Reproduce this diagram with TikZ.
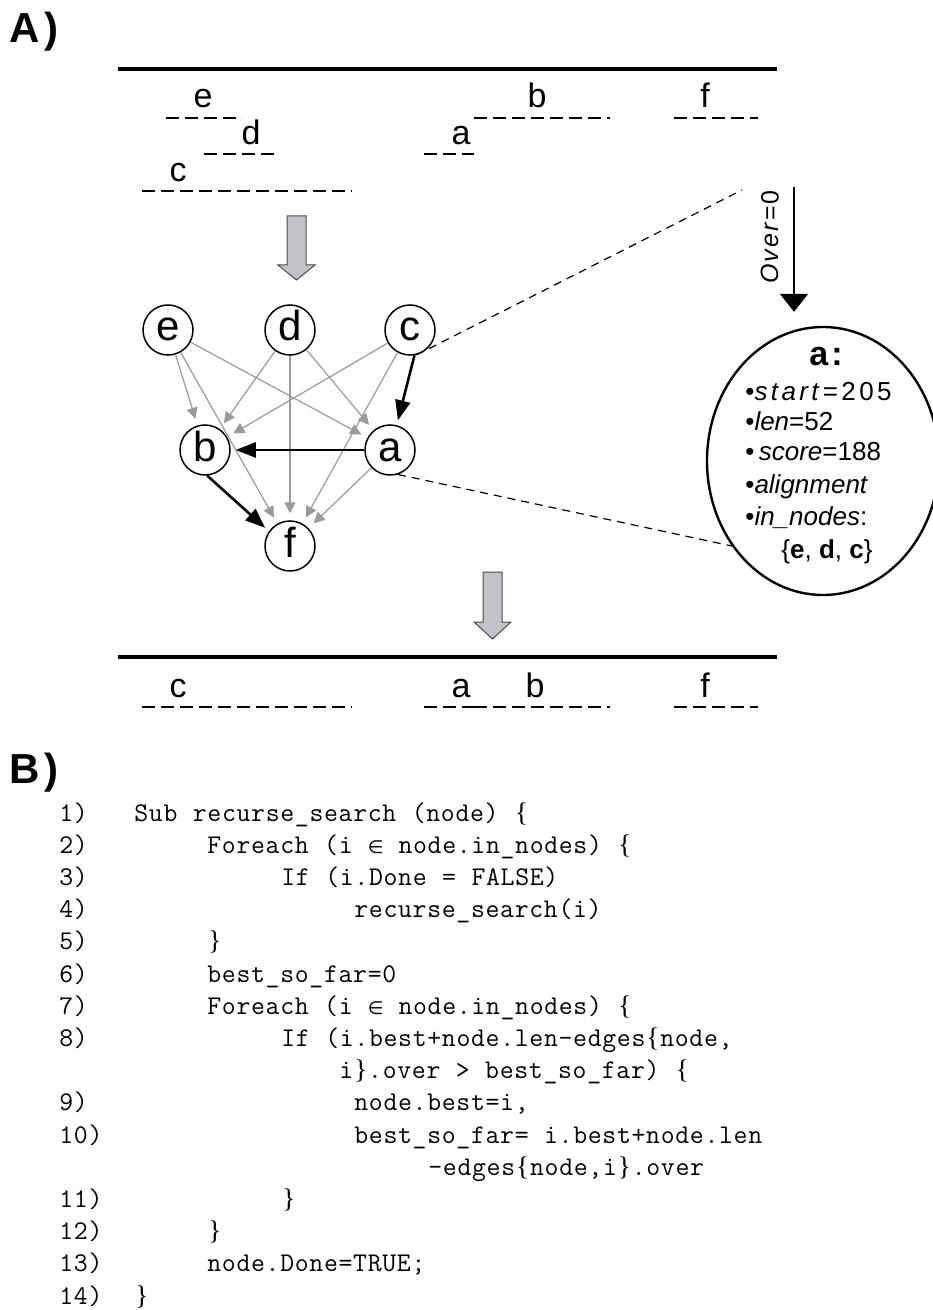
\documentclass[tikz,border=0pt]{standalone}
\usepackage{fontspec}
\setmainfont{Liberation Sans}
\setmonofont{lmmono12-regular.otf}[LetterSpace=2.5,WordSpace=1.06]
\newfontfamily\bracefont{Liberation Serif}
\newfontfamily\symfont{DejaVu Sans}
\usetikzlibrary{arrows.meta,shapes.geometric}
\definecolor{edgegray}{HTML}{9A9A9A}
\definecolor{blockgray}{HTML}{C2C2C8}
\newcommand\lbr{\makebox[7.45pt]{\bracefont\{}}
\newcommand\rbr{\makebox[7.45pt]{\bracefont\}}}
\newcommand\elem{\makebox[7.45pt]{\symfont\fontsize{9}{9}\selectfont ∈}}
\begin{document}
\begin{tikzpicture}[x=0.5pt,y=-0.5pt,
  seg/.style={line width=1.4pt, dash pattern=on 6.3pt off 3.2pt},
  seglbl/.style={font=\fontsize{17}{17}\selectfont, anchor=base, inner sep=0pt},
  gnode/.style={circle, draw, line width=0.75pt, minimum size=25pt, inner sep=0pt,
    text height=11pt, text depth=0pt, font=\fontsize{21}{21}\selectfont},
  gedge/.style={draw=edgegray, line width=0.6pt, -{Triangle[length=5.5pt,width=5.5pt,fill=edgegray]}, shorten >=3.5pt},
  bedge/.style={draw=black, line width=1.3pt, -{Triangle[length=10pt,width=7.5pt]}, shorten >=2.5pt},
  thick line/.style={line width=2.2pt},
  blockarrow/.style={fill=blockgray, draw=black!70, line width=0.5pt},
  linkdash/.style={line width=0.6pt, dash pattern=on 4pt off 3pt},
  elltxt/.style={anchor=base west, inner sep=0pt, font=\fontsize{13}{13}\selectfont},
  codeln/.style={anchor=base west, inner sep=0pt, font=\ttfamily\fontsize{13.5}{13.5}\selectfont},
  panel/.style={anchor=base west, inner sep=0pt, font=\bfseries\fontsize{21}{21}\selectfont}
]
\useasboundingbox (0,0) rectangle (932,1310);

% ---------- panel labels
\node[panel] (pA) at (9,43) {A\kern2.5pt)};
\node[panel] (pB) at (9,783) {B\kern2.5pt)};

% ---------- top alignment
\draw[thick line] (118,69) -- (777,69);
\draw[seg] (166,118) -- (242,118);
\draw[seg] (204,154) -- (278,154);
\draw[seg] (142,191) -- (352,191);
\draw[seg] (424,154) -- (474,154);
\draw[seg] (474,118) -- (610,118);
\draw[seg] (674,118) -- (758,118);
\node[seglbl] (le) at (203,108) {e};
\node[seglbl] (ld) at (251,145) {d};
\node[seglbl] (lc) at (178,182) {c};
\node[seglbl] (la) at (461,145) {a};
\node[seglbl] (lb) at (537,108) {b};
\node[seglbl] (lf) at (705,108) {f};

% ---------- block arrows
\draw[blockarrow] (287,216) -- (306,216) -- (306,265) -- (315,265) -- (296.5,280)
  -- (278,265) -- (287,265) -- cycle;
\draw[blockarrow] (483,572) -- (502,572) -- (502,622) -- (511,622) -- (492.5,639)
  -- (474,622) -- (483,622) -- cycle;

% ---------- graph
\node[gnode] (e) at (168,330) {e};
\node[gnode] (d) at (290,330) {d};
\node[gnode] (c) at (410,330) {c};
\node[gnode] (b) at (205,450) {b};
\node[gnode] (a) at (390,450) {a};
\node[gnode] (f) at (290,546) {f};

\draw[gedge] (e) -- (b);
\draw[gedge] (e) -- (f);
\draw[gedge] (e) -- (a);
\draw[gedge] (d) -- (b);
\draw[gedge] (d) -- (f);
\draw[gedge] (d) -- (a);
\draw[gedge] (c) -- (b);
\draw[gedge] (c) -- (f);
\draw[gedge] (a) -- (f);
\draw[bedge] (c.-80) -- (a.75);
\draw[bedge] (a) -- (b);
\draw[bedge] (b.-85) -- (f.145);

% ---------- ellipse detail
\node[ellipse, draw, line width=1.2pt, minimum width=116pt, minimum height=134pt] (ell) at (823,461) {};
\coordinate (zc) at (742,190);
\draw[linkdash] (c.-75) -- (zc);
\draw[linkdash] (a.-72) -- (ell.223);

\coordinate (ovtop) at (794,187);
\draw[line width=1pt, -{Triangle[length=9pt,width=14pt]}, shorten >=7pt] (ovtop) -- (ovtop |- ell.north);
\node[rotate=90, inner sep=0pt, font=\fontsize{12.5}{12.5}\selectfont\addfontfeature{LetterSpace=8}] (over) at (770,237) {\textit{Over}=0};

\node[anchor=base, inner sep=0pt, font=\bfseries\fontsize{17}{17}\selectfont] (ta) at (826,365) {a\kern1.5pt:};
\node[elltxt] (t1) at (745,400) {\addfontfeature{LetterSpace=13}•\textit{start}=205};
\node[elltxt] (t2) at (745,430) {•\textit{len}=52};
\node[elltxt] (t3) at (745,460) {•\,\textit{score}=188};
\node[elltxt] (t4) at (745,493) {•\textit{alignment}};
\node[elltxt] (t5) at (745,525) {•\textit{in\_nodes}:};
\node[elltxt] (t6) at (781,558) {\{\textbf{e}, \textbf{d}, \textbf{c}\}};

% ---------- bottom alignment
\draw[thick line] (118,657) -- (777,657);
\draw[seg] (142,707) -- (352,707);
\draw[seg] (424,707) -- (474,707);
\draw[seg] (474,707) -- (610,707);
\draw[seg] (674,707) -- (758,707);
\node[seglbl] (bc) at (178,697) {c};
\node[seglbl] (ba) at (461,697) {a};
\node[seglbl] (bb) at (535,697) {b};
\node[seglbl] (bf) at (705,697) {f};

% ---------- code
\node[codeln] (n1)  at (59,821)    {1)};
\node[codeln] (n2)  at (59,853.2)  {2)};
\node[codeln] (n3)  at (59,885.4)  {3)};
\node[codeln] (n4)  at (59,917.6)  {4)};
\node[codeln] (n5)  at (59,949.8)  {5)};
\node[codeln] (n6)  at (59,982)    {6)};
\node[codeln] (n7)  at (59,1014.2) {7)};
\node[codeln] (n8)  at (59,1046.4) {8)};
\node[codeln] (n9)  at (59,1110.8) {9)};
\node[codeln] (n10) at (59,1143)   {10)};
\node[codeln] (n11) at (59,1207.4) {11)};
\node[codeln] (n12) at (59,1239.6) {12)};
\node[codeln] (n13) at (59,1271.8) {13)};
\node[codeln] (n14) at (59,1304)   {14)};

\node[codeln] (c1)  at (134,821)    {Sub recurse\_search (node) \lbr};
\node[codeln] (c2)  at (207,853.2)  {Foreach (i \elem{} node.in\_nodes) \lbr};
\node[codeln] (c3)  at (281,885.4)  {If (i.Done = FALSE)};
\node[codeln] (c4)  at (354,917.6)  {recurse\_search(i)};
\node[codeln] (c5)  at (207,949.8)  {\rbr};
\node[codeln] (c6)  at (207,982)    {best\_so\_far=0};
\node[codeln] (c7)  at (207,1014.2) {Foreach (i \elem{} node.in\_nodes) \lbr};
\node[codeln] (c8)  at (281,1046.4) {If (i.best+node.len-edges\lbr node,};
\node[codeln] (c8b) at (339,1078.6) {i\rbr.over > best\_so\_far) \lbr};
\node[codeln] (c9)  at (354,1110.8) {node.best=i,};
\node[codeln] (c10) at (354,1143)   {best\_so\_far= i.best+node.len};
\node[codeln] (c10b) at (428,1175.2) {-edges\lbr node,i\rbr.over};
\node[codeln] (c11) at (281,1207.4) {\rbr};
\node[codeln] (c12) at (207,1239.6) {\rbr};
\node[codeln] (c13) at (207,1271.8) {node.Done=TRUE;};
\node[codeln] (c14) at (134,1304)   {\rbr};
\end{tikzpicture}
\end{document}
